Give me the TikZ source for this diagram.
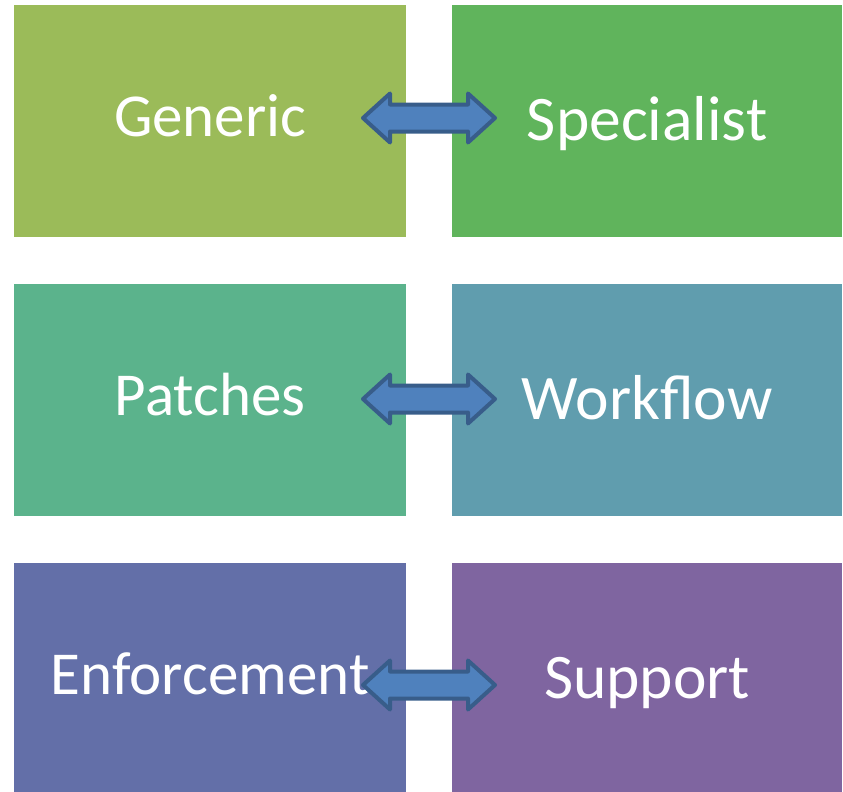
\documentclass[tikz,border=0pt]{standalone}
\usepackage{fontspec}
\setmainfont{Carlito}
\usepackage{xcolor}
\usepackage{tikz}

\definecolor{cgeneric}{HTML}{9BBB59}
\definecolor{cspecial}{HTML}{60B45C}
\definecolor{cpatches}{HTML}{5BB38C}
\definecolor{cworkflow}{HTML}{609DAE}
\definecolor{cenforce}{HTML}{636FA8}
\definecolor{csupport}{HTML}{7F65A0}
\definecolor{arrowfill}{HTML}{4F81BD}
\definecolor{arrowline}{HTML}{385D8A}

\begin{document}
\begin{tikzpicture}[
	x=1pt,y=-1pt,
	box/.style={rectangle,anchor=north west,minimum width=392pt,minimum height=232pt,inner sep=0pt,text=white,text height=44pt,text depth=14pt,font=\fontsize{61}{66}\selectfont},
	rbox/.style={box,minimum width=390pt,text height=50pt,text depth=12pt,font=\fontsize{63.5}{68}\selectfont},
	darrow/.style={fill=arrowfill,draw=arrowline,line width=4pt,line join=round},
	dblarrow/.pic={
		\draw[darrow] (-66,0) -- (-39,-24.5) -- (-39,-13.5) -- (39,-13.5) -- (39,-24.5) -- (66,0)
			-- (39,24.5) -- (39,13.5) -- (-39,13.5) -- (-39,24.5) -- cycle;
	}
]
	\useasboundingbox (0,0) rectangle (843,792);
	\clip (0,0) rectangle (843,792);
	\node[box,fill=cgeneric] (generic) at (14,5) {Generic};
	\node[rbox,fill=cspecial] (specialist) at (452,5) {Specialist};
	\node[box,fill=cpatches] (patches) at (14,284) {Patches};
	\node[rbox,fill=cworkflow] (workflow) at (452,284) {Workflow};
	\node[box,fill=cenforce] (enforcement) at (14,563) {Enforcement};
	\node[rbox,fill=csupport] (support) at (452,563) {Support};
	% arrows between the columns
	\pic at (429,118) {dblarrow};
	\pic at (429,399) {dblarrow};
	\pic at (429,685) {dblarrow};
\end{tikzpicture}
\end{document}
